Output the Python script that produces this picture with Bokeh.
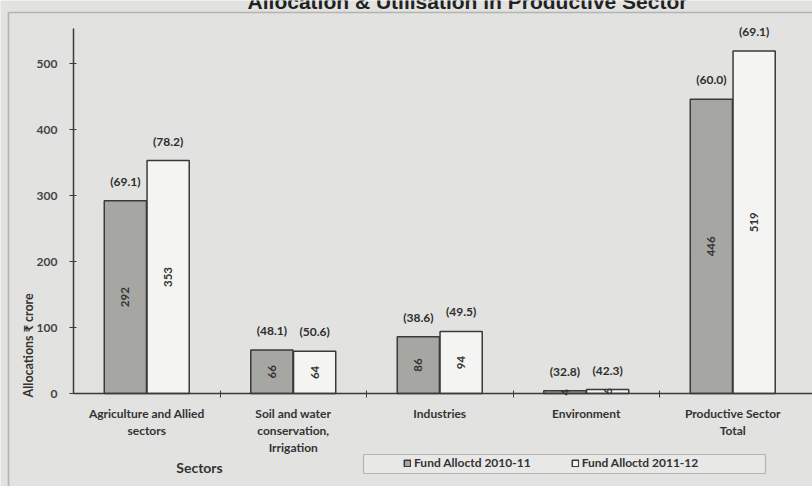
import math
from bokeh.plotting import figure
from bokeh.models import (ColumnDataSource, Range1d, Legend, LegendItem,
                          FixedTicker, Label, BoxAnnotation)
from bokeh.transform import dodge
from bokeh.core.properties import value
from bokeh.embed import file_html
from bokeh.resources import INLINE

# ---------------- data ----------------
sectors = ["Agriculture and Allied\nsectors",
           "Soil and water\nconservation,\nIrrigation",
           "Industries",
           "Environment",
           "Productive Sector\nTotal"]
alloc_2010 = [292, 66, 86, 4, 446]
alloc_2011 = [353, 64, 94, 6, 519]
util_2010 = [69.1, 48.1, 38.6, 32.8, 60.0]
util_2011 = [78.2, 50.6, 49.5, 42.3, 69.1]
series_names = ["Fund Alloctd 2010-11", "Fund Alloctd 2011-12"]
y_ticks = [0, 100, 200, 300, 400, 500]
title_text = "Allocation & Utilisation in Productive Sector"
x_title = "Sectors"
y_title = "Allocations \u20b9 crore"

# ---------------- style / layout ----------------
W_PX, H_PX = 812, 486
BG = "#e2e2e0"
DARK = "#3a3a3a"
FONT = "Lato"
PX_PER_CAT = 146.5           # pixel width of one category slot
PX_PER_UNIT = 0.66           # pixels per crore
LEFT_PX, ZERO_PX = 73, 93    # plot origin: 73 px from left, 93 px above bottom
X_START = 0.5 - LEFT_PX / PX_PER_CAT
X_END = X_START + W_PX / PX_PER_CAT
Y_BOTTOM = -ZERO_PX / PX_PER_UNIT
Y_TOP = Y_BOTTOM + H_PX / PX_PER_UNIT
AXIS_TOP = 553

pos = list(range(1, len(sectors) + 1))   # category slot numbers

def make_src(vals, utils):
    return ColumnDataSource(dict(
        x=pos,
        top=vals,
        mid=[v / 2 for v in vals],
        val=[str(v) for v in vals],
        pct=["(%.1f)" % u for u in utils],
    ))

src1 = make_src(alloc_2010, util_2010)
src2 = make_src(alloc_2011, util_2011)

p = figure(x_range=Range1d(X_START, X_END), y_range=Range1d(Y_BOTTOM, Y_TOP),
           width=W_PX, height=H_PX, output_backend="svg", toolbar_location=None,
           min_border=0, background_fill_color=BG, border_fill_color=BG,
           outline_line_color=None)
p.xgrid.visible = False
p.ygrid.visible = False

# outer chart box
p.add_layout(BoxAnnotation(left=8, right=W_PX + 20, top=H_PX - 12, bottom=-20,
                           left_units="screen", right_units="screen",
                           top_units="screen", bottom_units="screen",
                           fill_alpha=0, line_color="#454545", line_width=1.6))

OFF = 0.146
W = 0.288
r1 = p.vbar(x=dodge("x", -OFF), top="top", width=W, source=src1,
            fill_color="#a6a6a2", line_color=DARK, line_width=1.5)
r2 = p.vbar(x=dodge("x", OFF), top="top", width=W, source=src2,
            fill_color="#f4f4f2", line_color=DARK, line_width=1.5)

for src, off in ((src1, -OFF), (src2, OFF)):
    p.text(x=dodge("x", off), y="top", text="pct", source=src,
           y_offset=-12, text_align="center", text_baseline="bottom",
           text_font=value(FONT), text_font_style="bold",
           text_font_size="12px", text_color="#2e2e2e")
    p.text(x=dodge("x", off), y="mid", text="val", source=src,
           angle=math.pi / 2, text_align="center", text_baseline="middle",
           text_font=value(FONT), text_font_style="bold",
           text_font_size="11.5px", text_color="#333333")

# axes (fixed at the chart origin)
for ax in (p.xaxis[0], p.yaxis[0]):
    ax.axis_line_color = DARK
    ax.axis_line_width = 1.5
    ax.major_label_text_font = FONT
    ax.major_label_text_font_style = "bold"
    ax.major_label_text_color = "#333333"

p.yaxis.fixed_location = 0.5
p.yaxis.bounds = (0, AXIS_TOP)
p.yaxis.ticker = FixedTicker(ticks=y_ticks)
p.yaxis.minor_tick_line_color = None
p.yaxis.major_tick_in = 3
p.yaxis.major_tick_out = 4
p.yaxis.major_tick_line_color = DARK
p.yaxis.major_label_text_font_size = "12px"
p.yaxis.major_label_text_color = "#444444"
p.yaxis.major_label_standoff = 12

p.xaxis.fixed_location = 0
p.xaxis.bounds = (0.5, X_END)
p.xaxis.ticker = FixedTicker(ticks=pos, minor_ticks=[q + 0.5 for q in pos[:-1]])
p.xaxis.major_label_overrides = {q: s for q, s in zip(pos, sectors)}
p.xaxis.major_tick_line_color = None
p.xaxis.major_tick_in = 0
p.xaxis.major_tick_out = 0
p.xaxis.minor_tick_line_color = DARK
p.xaxis.minor_tick_in = 3
p.xaxis.minor_tick_out = 4
p.xaxis.major_label_text_font_size = "12px"
p.xaxis.major_label_text_line_height = 1.15
p.xaxis.major_label_standoff = 8

# title, cropped at the top as in the source
p.add_layout(Label(x=467, y=H_PX - 1, x_units="screen", y_units="screen",
                   text=title_text, text_align="center", text_baseline="alphabetic",
                   text_font="Liberation Sans", text_font_style="bold",
                   text_font_size="21px", text_color="#222222"))

# axis titles
p.add_layout(Label(x=28, y=H_PX - 397, x_units="screen", y_units="screen",
                   text=y_title, angle=math.pi / 2, text_align="left",
                   text_baseline="middle", text_font=FONT, text_font_style="bold",
                   text_font_size="12.5px", text_color="#333333"))
p.add_layout(Label(x=199, y=H_PX - 467, x_units="screen", y_units="screen",
                   text=x_title, text_align="center", text_baseline="alphabetic",
                   text_font=FONT, text_font_style="bold", text_font_size="14px",
                   text_color="#333333"))

# legend frame + legend
p.add_layout(BoxAnnotation(left=363, right=765, bottom=H_PX - 473, top=H_PX - 454,
                           left_units="screen", right_units="screen",
                           top_units="screen", bottom_units="screen",
                           fill_color="#e8e8e6", fill_alpha=1,
                           line_color="#444444", line_width=1.2))
legend = Legend(items=[LegendItem(label=series_names[0], renderers=[r1]),
                       LegendItem(label=series_names[1], renderers=[r2])],
                orientation="horizontal", location=(403, H_PX - 470),
                border_line_color=None, background_fill_alpha=0,
                label_text_font=FONT, label_text_font_style="bold",
                label_text_font_size="12px", label_text_color="#333333",
                glyph_width=8, glyph_height=8, spacing=40, padding=0,
                margin=0, label_standoff=3, label_height=12)
p.add_layout(legend)

open("out.html", "w").write(file_html(p, INLINE))
